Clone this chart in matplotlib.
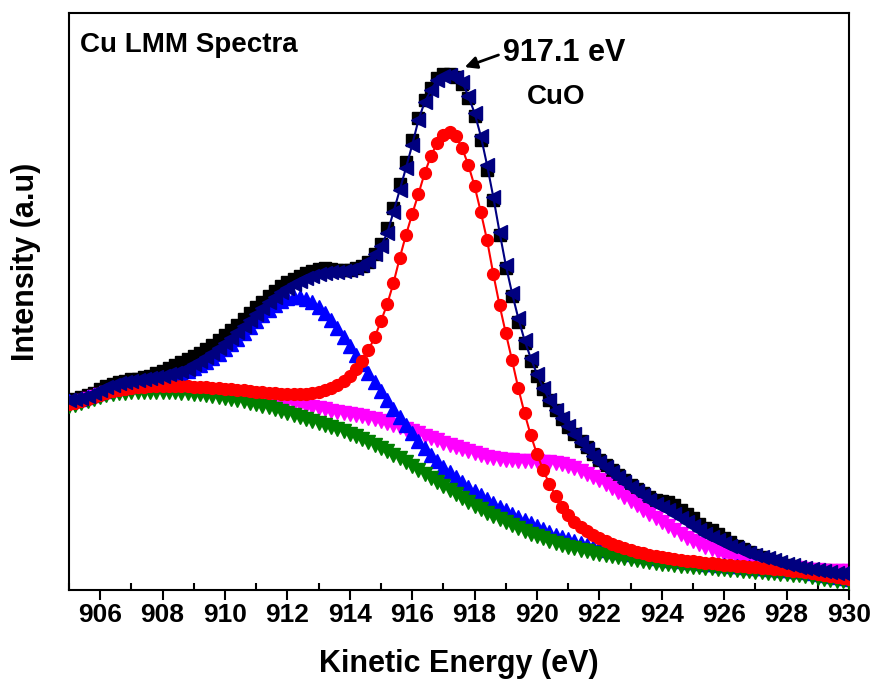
import numpy as np
import matplotlib
matplotlib.use("Agg")
import matplotlib.pyplot as plt
from matplotlib.ticker import MultipleLocator

plt.rcParams['font.family'] = ['Liberation Sans', 'DejaVu Sans']
plt.rcParams['font.weight'] = 'bold'

# Kinetic energy grid (eV)
energy = [
    905.0, 905.2, 905.4, 905.6, 905.8, 906.0, 906.2, 906.4, 906.6, 906.8,
    907.0, 907.2, 907.4, 907.6, 907.8, 908.0, 908.2, 908.4, 908.6, 908.8,
    909.0, 909.2, 909.4, 909.6, 909.8, 910.0, 910.2, 910.4, 910.6, 910.8,
    911.0, 911.2, 911.4, 911.6, 911.8, 912.0, 912.2, 912.4, 912.6, 912.8,
    913.0, 913.2, 913.4, 913.6, 913.8, 914.0, 914.2, 914.4, 914.6, 914.8,
    915.0, 915.2, 915.4, 915.6, 915.8, 916.0, 916.2, 916.4, 916.6, 916.8,
    917.0, 917.2, 917.4, 917.6, 917.8, 918.0, 918.2, 918.4, 918.6, 918.8,
    919.0, 919.2, 919.4, 919.6, 919.8, 920.0, 920.2, 920.4, 920.6, 920.8,
    921.0, 921.2, 921.4, 921.6, 921.8, 922.0, 922.2, 922.4, 922.6, 922.8,
    923.0, 923.2, 923.4, 923.6, 923.8, 924.0, 924.2, 924.4, 924.6, 924.8,
    925.0, 925.2, 925.4, 925.6, 925.8, 926.0, 926.2, 926.4, 926.6, 926.8,
    927.0, 927.2, 927.4, 927.6, 927.8, 928.0, 928.2, 928.4, 928.6, 928.8,
    929.0, 929.2, 929.4, 929.6, 929.8, 930.0,
]

# Raw spectrum (a.u.)
raw = [
    189, 191, 193, 195, 197, 201, 204, 206, 208, 209,
    211, 211, 213, 214, 217, 219, 222, 225, 228, 231,
    234, 237, 241, 245, 250, 255, 260, 265, 271, 277,
    283, 288, 294, 299, 304, 308, 311, 314, 317, 319,
    321, 322, 321, 320, 320, 320, 322, 324, 328, 336,
    346, 362, 382, 406, 428, 450, 472, 490, 502, 512,
    516, 516, 513, 506, 492, 474, 450, 420, 390, 355,
    322, 294, 268, 247, 229, 214, 201, 190, 180, 171,
    163, 156, 149, 143, 136, 130, 125, 120, 115, 110,
    105, 101, 97, 93, 90, 89, 88, 85, 80, 76,
    72, 66, 62, 60, 56, 52, 48, 44, 41, 38,
    35, 33, 31, 29, 27, 25, 24, 22, 20, 19,
    18, 20, 18, 16, 15, 14,
]

# Fitted envelope
envelope = [
    190, 191, 192, 194, 197, 200, 203, 205, 207, 208,
    209, 210, 211, 212, 213, 214, 216, 217, 219, 221,
    226, 229, 233, 237, 242, 247, 252, 258, 264, 270,
    276, 282, 288, 293, 298, 302, 306, 309, 312, 314,
    316, 317, 318, 318, 319, 320, 322, 325, 329, 336,
    344, 357, 378, 400, 422, 445, 470, 488, 500, 510,
    514, 515, 513, 508, 494, 477, 454, 425, 393, 358,
    325, 297, 272, 250, 232, 216, 202, 190, 180, 172,
    164, 156, 148, 141, 134, 128, 123, 118, 113, 108,
    103, 99, 95, 90, 86, 83, 80, 76, 72, 68,
    64, 60, 56, 53, 50, 47, 44, 42, 39, 37,
    35, 33, 32, 30, 28, 26, 25, 23, 22, 21,
    20, 19, 18, 17, 17, 16,
]

# CuO component (917.1 eV)
cuo_peak = [
    186, 187, 189, 191, 193, 195, 197, 199, 200, 201,
    202, 203, 203, 204, 204, 204, 204, 204, 204, 204,
    203, 203, 203, 202, 202, 201, 201, 200, 200, 199,
    198, 198, 197, 197, 196, 196, 196, 196, 196, 197,
    198, 200, 202, 205, 209, 214, 221, 229, 240, 253,
    269, 286, 307, 332, 355, 376, 396, 417, 434, 447,
    455, 458, 454, 442, 425, 404, 378, 350, 316, 285,
    257, 230, 202, 177, 155, 136, 120, 106, 94, 83,
    75, 68, 63, 59, 55, 52, 49, 46, 44, 42,
    40, 38, 37, 35, 34, 33, 32, 31, 30, 29,
    29, 28, 27, 27, 26, 25, 25, 24, 24, 23,
    23, 22, 22, 21, 21, 20, 19, 19, 18, 17,
    16, 15, 14, 13, 12, 11,
]

# Low energy component (~912.3 eV)
low_peak = [
    189, 190, 191, 193, 195, 197, 199, 201, 202, 203,
    204, 205, 206, 207, 208, 210, 212, 214, 216, 219,
    222, 225, 228, 232, 236, 241, 246, 251, 257, 263,
    269, 275, 280, 285, 289, 292, 293, 293, 291, 288,
    283, 277, 270, 262, 253, 244, 235, 226, 217, 208,
    199, 190, 181, 173, 165, 157, 149, 142, 135, 129,
    123, 118, 113, 108, 103, 99, 95, 91, 87, 83,
    80, 76, 73, 70, 67, 64, 61, 58, 55, 53,
    51, 49, 47, 45, 43, 42, 40, 39, 38, 37,
    36, 35, 34, 33, 32, 31, 30, 30, 29, 28,
    28, 27, 26, 26, 25, 25, 24, 24, 23, 23,
    22, 22, 21, 21, 20, 20, 19, 19, 18, 17,
    16, 15, 14, 13, 12, 11,
]

# High energy component (~920.5 eV)
high_peak = [
    186, 187, 189, 191, 193, 195, 197, 198, 199, 200,
    200, 201, 201, 201, 201, 201, 201, 201, 200, 200,
    200, 199, 199, 198, 198, 197, 196, 196, 195, 194,
    193, 192, 191, 190, 189, 188, 187, 186, 184, 183,
    182, 181, 179, 178, 177, 176, 175, 174, 172, 171,
    169, 167, 165, 163, 161, 159, 157, 154, 152, 150,
    147, 145, 143, 141, 139, 137, 135, 133, 132, 131,
    130, 130, 129, 129, 129, 129, 128, 128, 127, 126,
    124, 122, 119, 116, 113, 110, 106, 102, 98, 93,
    89, 85, 80, 76, 72, 68, 64, 60, 56, 52,
    49, 46, 43, 41, 38, 36, 34, 32, 31, 29,
    28, 27, 26, 25, 24, 23, 22, 22, 21, 20,
    20, 19, 19, 19, 19, 19,
]

# Background
background = [
    184, 185, 187, 189, 191, 193, 195, 196, 197, 197,
    198, 198, 198, 198, 198, 198, 198, 198, 197, 197,
    196, 196, 195, 194, 193, 192, 191, 190, 189, 187,
    186, 184, 183, 181, 179, 177, 175, 173, 171, 169,
    167, 165, 163, 161, 159, 156, 154, 151, 148, 145,
    142, 139, 135, 132, 128, 124, 120, 116, 112, 108,
    104, 100, 96, 92, 88, 84, 81, 77, 74, 71,
    68, 65, 62, 59, 56, 54, 52, 49, 47, 45,
    43, 42, 40, 39, 37, 36, 35, 34, 33, 32,
    31, 30, 29, 28, 27, 26, 26, 25, 24, 24,
    23, 23, 22, 22, 21, 21, 20, 20, 19, 19,
    18, 18, 17, 17, 16, 16, 15, 15, 14, 13,
    12, 11, 10, 9, 9, 8,
]

fig = plt.figure(figsize=(8.73, 6.87), dpi=100)
ax = fig.add_axes([0.079, 0.141, 0.8935, 0.840])

ax.plot(energy, raw, 's', color='black', ms=8, mec='black', zorder=1)
ax.plot(energy, high_peak, '-v', color='#FF00FF', ms=10, lw=1, zorder=2)
ax.plot(energy, low_peak, '-^', color='#0000FF', ms=10, lw=1, zorder=3)
ax.plot(energy, background, '-v', color='#008000', ms=10, lw=1, zorder=4)
ax.plot(energy, cuo_peak, '-o', color='#FF0000', ms=8.5, lw=1.5, zorder=5)
ax.plot(energy, envelope, '-<', color='#000080', ms=10.5, lw=1.5, zorder=6)

ax.set_xlim(905, 930)
ax.set_ylim(0, 577)
ax.set_yticks([])
ax.set_xticks(np.arange(906, 931, 2))
ax.xaxis.set_minor_locator(MultipleLocator(1))
ax.tick_params(axis='x', which='major', direction='out', length=7, width=1.5,
               labelsize=19, pad=2)
ax.tick_params(axis='x', which='minor', direction='in', length=5, width=1.5)
for sp in ax.spines.values():
    sp.set_linewidth(1.5)

ax.set_xlabel('Kinetic Energy (eV)', fontsize=22, fontweight='bold', labelpad=16)
ax.set_ylabel('Intensity (a.u)', fontsize=22, fontweight='bold')
ax.yaxis.set_label_coords(-0.036, 0.568)

ax.text(0.014, 0.945, 'Cu LMM Spectra', transform=ax.transAxes,
        fontsize=20, fontweight='bold', ha='left', va='center')
ax.annotate('', xy=(917.6, 522), xytext=(918.85, 536),
            arrowprops=dict(arrowstyle='-|>', color='black', lw=2, mutation_scale=18))
ax.text(918.9, 537, '917.1 eV', fontsize=22, fontweight='bold', ha='left', va='center')
ax.text(920.6, 493, 'CuO', fontsize=20, fontweight='bold', ha='center', va='center')

fig.savefig('out.png', dpi=100)
